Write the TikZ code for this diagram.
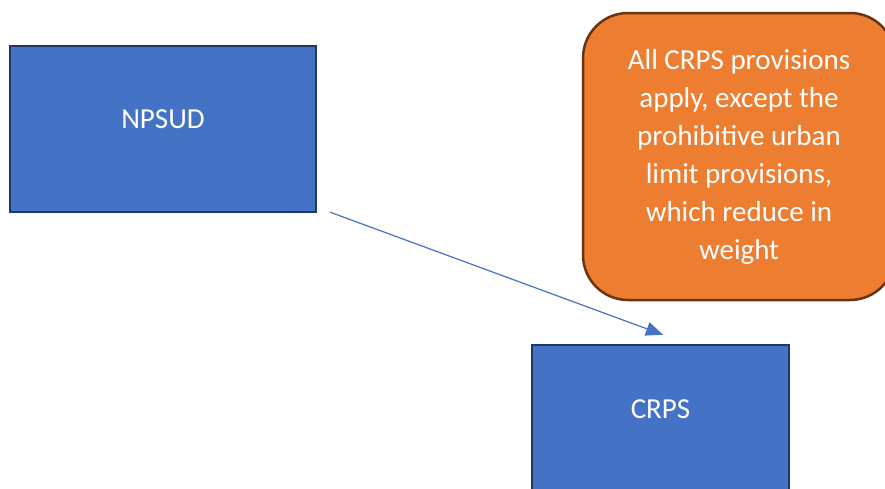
\documentclass[tikz,border=0pt]{standalone}
\usepackage{fontspec}
\setmainfont{Carlito}
\usetikzlibrary{arrows.meta}
\definecolor{boxblue}{HTML}{4472C4}
\definecolor{boxnavy}{HTML}{1F3864}
\definecolor{notefill}{HTML}{ED7D31}
\definecolor{noteline}{HTML}{6B3410}
\begin{document}
\begin{tikzpicture}[x=1pt,y=-1pt,
    docbox/.style={draw=boxnavy,fill=boxblue,line width=2.5pt,inner sep=0pt,
      text=white,font=\fontsize{29}{38}\selectfont,text height=19pt,text depth=21pt},
    notebox/.style={draw=noteline,fill=notefill,line width=2.5pt,rounded corners=45pt,
      text=white,align=center,font=\fontsize{29}{38}\selectfont,inner sep=0pt},
    link/.style={draw=boxblue,line width=1.2pt,-{Triangle[length=17pt,width=14pt]}}]
  \clip (0,0) rectangle (885,488);
  \fill[white] (0,0) rectangle (885,488);

  % Dokumente
  \node[docbox,minimum width=306pt,minimum height=166pt] (npsud) at (163,129) {NPSUD};
  \node[docbox,minimum width=257pt,minimum height=148pt] (crps) at (660.5,419) {CRPS};

  % Hinweis
  \node[notebox,minimum width=312pt,minimum height=287pt] (note) at (739,156.5)
    {All CRPS provisions\\apply, except the\\prohibitive urban\\limit provisions,\\which reduce in\\weight};

  % Pfeil
  \draw[link] ([xshift=13pt,yshift=1pt]npsud.south east) -- ([xshift=2.5pt,yshift=9pt]crps.north);
\end{tikzpicture}
\end{document}
